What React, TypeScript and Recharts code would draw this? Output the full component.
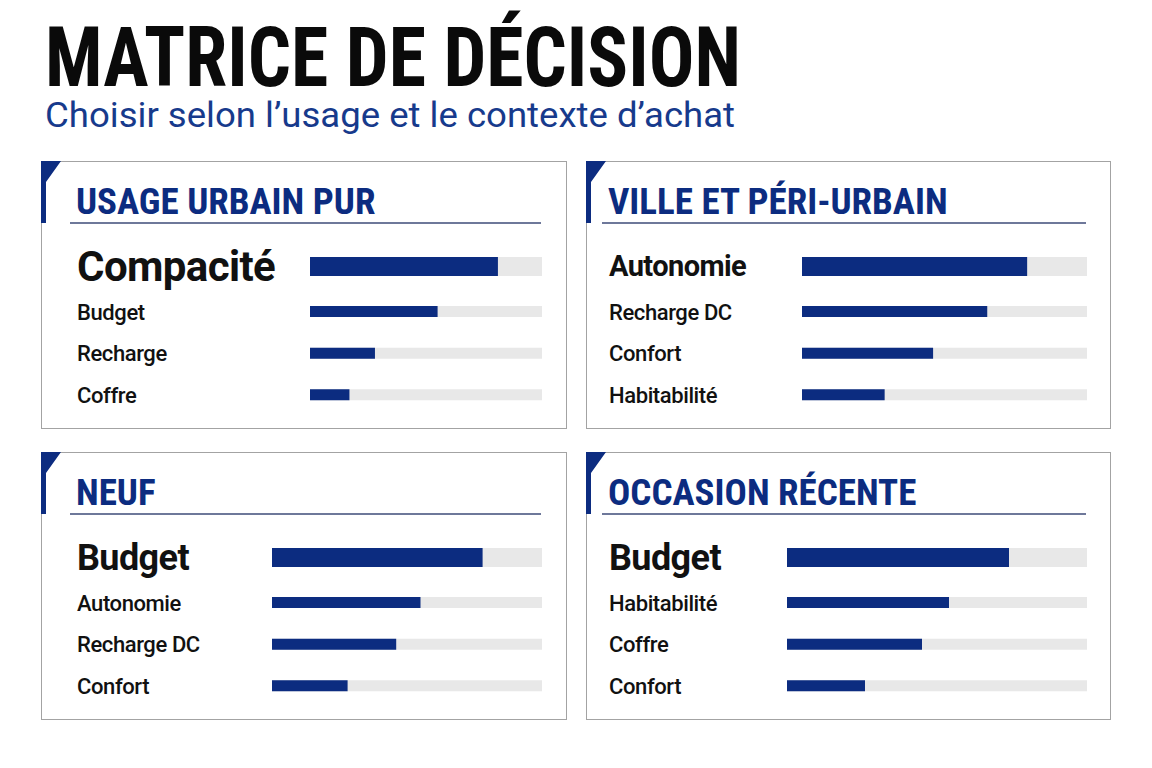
import React from 'react';
import { BarChart, Bar, XAxis, YAxis } from 'recharts';

// Scores, out of 100
const urbainLabels = ['Compacité', 'Budget', 'Recharge', 'Coffre'];
const urbainScores = [81, 55, 28, 17];

const periLabels = ['Autonomie', 'Recharge DC', 'Confort', 'Habitabilité'];
const periScores = [79, 65, 46, 29];

const neufLabels = ['Budget', 'Autonomie', 'Recharge DC', 'Confort'];
const neufScores = [78, 55, 46, 28];

const occasionLabels = ['Budget', 'Habitabilité', 'Coffre', 'Confort'];
const occasionScores = [74, 54, 45, 26];

const panelTitles = ['USAGE URBAIN PUR', 'VILLE ET PÉRI-URBAIN', 'NEUF', 'OCCASION RÉCENTE'];

const NAVY = '#0c2c80';
const TRACK = '#e8e8e8';
const NARROW = '"Liberation Sans Narrow", "Roboto Condensed", "DejaVu Sans Condensed", sans-serif';
const LABEL_FONT = 'Roboto, "Liberation Sans", sans-serif';

interface PanelLayout {
  left: number;
  top: number;
  width: number;
  labelX: number;
  trackX: number;
  topFont: number;
}

const layouts: PanelLayout[] = [
  { left: 41, top: 161, width: 526, labelX: 35, trackX: 268, topFont: 42 },
  { left: 586, top: 161, width: 525, labelX: 22, trackX: 215, topFont: 29 },
  { left: 41, top: 452, width: 526, labelX: 35, trackX: 230, topFont: 36 },
  { left: 586, top: 452, width: 525, labelX: 22, trackX: 200, topFont: 36 },
];

const TRACK_END = 500;

const toRows = (labels: string[], scores: number[]) =>
  labels.map((name, i) => ({ name, score: scores[i] }));

const RowChart: React.FC<{
  rows: { name: string; score: number }[];
  layout: PanelLayout;
  top: number;
  height: number;
  barSize: number;
  fontSize: number;
  bold: boolean;
}> = ({ rows, layout, top, height, barSize, fontSize, bold }) => (
  <div style={{ position: 'absolute', left: 0, top }}>
    <BarChart
      width={TRACK_END}
      height={height}
      data={rows}
      layout="vertical"
      margin={{ top: 0, right: 0, bottom: 0, left: 0 }}
    >
      <XAxis type="number" domain={[0, 100]} hide />
      <YAxis
        type="category"
        dataKey="name"
        width={layout.trackX}
        axisLine={false}
        tickLine={false}
        tick={(props: any) => (
          <text
            x={layout.labelX}
            y={props.y}
            dy={fontSize * 0.36}
            fontSize={fontSize}
            fontWeight={bold ? 700 : 500}
            fontFamily={LABEL_FONT}
            letterSpacing={bold ? -0.6 : -0.4}
            fill="#111"
          >
            {props.payload.value}
          </text>
        )}
      />
      <Bar
        dataKey="score"
        fill={NAVY}
        barSize={barSize}
        background={{ fill: TRACK }}
        isAnimationActive={false}
      />
    </BarChart>
  </div>
);

const Panel: React.FC<{ title: string; labels: string[]; scores: number[]; layout: PanelLayout }> = ({
  title,
  labels,
  scores,
  layout,
}) => {
  const rows = toRows(labels, scores);
  return (
    <div
      style={{
        position: 'absolute',
        left: layout.left,
        top: layout.top,
        width: layout.width,
        height: 268,
        boxSizing: 'border-box',
        border: '1px solid #a3a3a3',
        background: '#fff',
      }}
    >
      <svg width={layout.width} height={70} style={{ position: 'absolute', left: -1, top: -1 }}>
        <polygon points="0,0 20,0 5,21 5,62 0,62" fill={NAVY} />
        <text
          x={layout.labelX}
          y={53}
          fontFamily={NARROW}
          fontWeight={700}
          fontSize={37}
          fill={NAVY}
        >
          {title}
        </text>
        <line x1={layout.labelX - 6} x2={TRACK_END} y1={62} y2={62} stroke="#3e4b78" strokeWidth={1.3} />
      </svg>
      <RowChart
        rows={rows.slice(0, 1)}
        layout={layout}
        top={74}
        height={60}
        barSize={19}
        fontSize={layout.topFont}
        bold
      />
      <RowChart
        rows={rows.slice(1)}
        layout={layout}
        top={129}
        height={125}
        barSize={11}
        fontSize={22}
        bold={false}
      />
    </div>
  );
};

const App: React.FC = () => (
  <div style={{ position: 'absolute', left: 0, top: 0, width: 1152, height: 768, background: '#fff', overflow: 'hidden' }}>
    <svg width={1152} height={110} style={{ position: 'absolute', left: 0, top: 0, overflow: 'visible' }}>
      <text
        x={45}
        y={86}
        fontFamily={NARROW}
        fontWeight={700}
        fontSize={84}
        textLength={696}
        lengthAdjust="spacingAndGlyphs"
        fill="#0a0a0a"
      >
        MATRICE DE DÉCISION
      </text>
    </svg>
    <svg width={1152} height={50} style={{ position: 'absolute', left: 0, top: 96, overflow: 'visible' }}>
      <text
        x={45}
        y={31}
        fontFamily={LABEL_FONT}
        fontSize={35}
        textLength={690}
        lengthAdjust="spacingAndGlyphs"
        fill="#173a8c"
      >
        Choisir selon l’usage et le contexte d’achat
      </text>
    </svg>
    <Panel title={panelTitles[0]} labels={urbainLabels} scores={urbainScores} layout={layouts[0]} />
    <Panel title={panelTitles[1]} labels={periLabels} scores={periScores} layout={layouts[1]} />
    <Panel title={panelTitles[2]} labels={neufLabels} scores={neufScores} layout={layouts[2]} />
    <Panel title={panelTitles[3]} labels={occasionLabels} scores={occasionScores} layout={layouts[3]} />
  </div>
);

export default App;
